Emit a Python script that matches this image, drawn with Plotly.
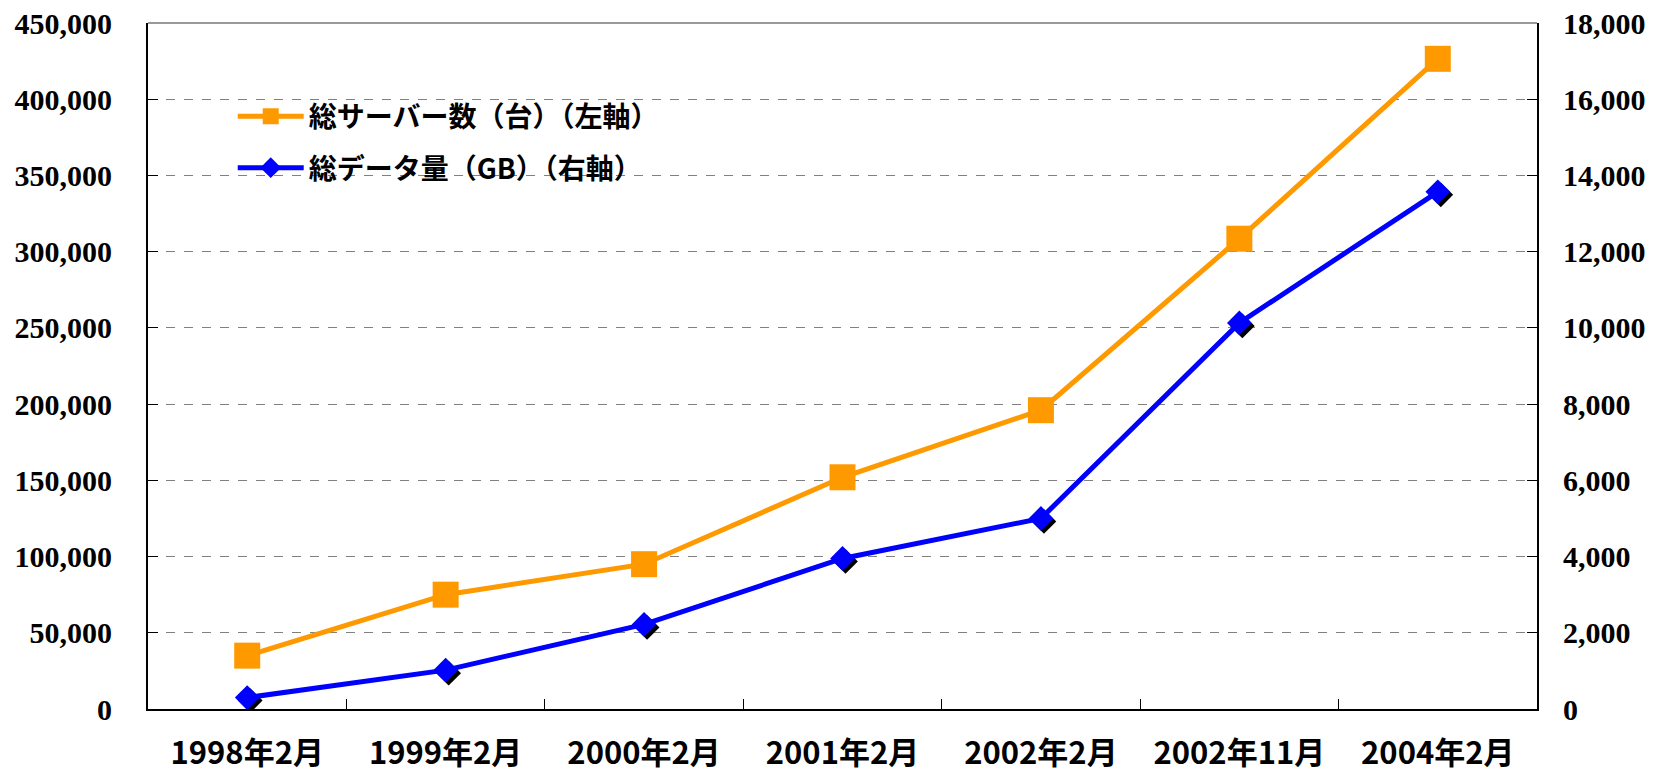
import plotly.graph_objects as go

categories = ["1998年2月", "1999年2月", "2000年2月", "2001年2月", "2002年2月", "2002年11月", "2004年2月"]
servers = [35000, 75000, 95000, 152000, 196000, 308500, 426500]
data_gb = [300, 1020, 2220, 3950, 5000, 10130, 13570]

name_servers = "総サーバー数（台）（左軸）"
name_data = "総データ量（GB）（右軸）"

W, H = 1655, 772
L, R, T, B = 148, 118, 23, 63
pw = W - L - R
ph = H - T - B
sx = 3 / (pw / 7)
sy = 3 * 18000 / ph

orange = "#FF9900"
blue = "#0000FF"

fig = go.Figure()
fig.add_trace(go.Scatter(
    x=categories, y=servers, name=name_servers, mode="lines+markers",
    line=dict(color=orange, width=5),
    marker=dict(symbol="square", size=26, color=orange),
    legendgroup="a",
))
# shadow for diamonds (offset overlay axes, hidden)
fig.add_trace(go.Scatter(
    x=categories, y=data_gb, mode="markers", showlegend=False,
    marker=dict(symbol="diamond", size=19, color="black"),
    xaxis="x2", yaxis="y2", hoverinfo="skip",
))
fig.add_trace(go.Scatter(
    x=categories, y=data_gb, name=name_data, mode="lines+markers",
    line=dict(color=blue, width=5),
    marker=dict(symbol="diamond", size=19, color=blue),
    xaxis="x3", yaxis="y3", legendgroup="b",
))

tickfont_y = dict(family="Liberation Serif", size=30, color="black", weight="bold")

fig.update_layout(
    width=W, height=H,
    margin=dict(l=L, r=R, t=T, b=B),
    paper_bgcolor="white", plot_bgcolor="white",
    showlegend=True,
    legend=dict(
        x=0.061, y=0.90, xanchor="left", yanchor="top",
        font=dict(family="Noto Sans CJK JP", size=28, color="black", weight="bold"),
        itemwidth=66, tracegroupgap=12, bgcolor="rgba(0,0,0,0)",
    ),
    xaxis=dict(
        type="category", range=[-0.5, 6.5], showline=True, linecolor="black", linewidth=2,
        ticks="inside", tickson="boundaries", ticklen=10, tickcolor="black", tickwidth=1,
        showgrid=False, ticklabelstandoff=16, automargin=False,
        categoryorder="array", categoryarray=categories,
        tickfont=dict(family="Noto Sans CJK JP", size=31, color="black", weight="bold"),
    ),
    yaxis=dict(
        range=[0, 450000], dtick=50000, tickformat=",d", showline=True, linecolor="black", linewidth=2,
        ticks="inside", ticklen=10, tickcolor="black", automargin=False,
        showgrid=True, gridcolor="#808080", griddash="dash", gridwidth=1,
        tickfont=tickfont_y, ticklabelstandoff=28, zeroline=False,
    ),
    xaxis2=dict(
        type="category", overlaying="x", range=[-0.5 - sx, 6.5 - sx], visible=False,
        categoryorder="array", categoryarray=categories, automargin=False,
    ),
    yaxis2=dict(
        overlaying="y", range=[sy, 18000 + sy], visible=False, automargin=False,
    ),
    xaxis3=dict(
        type="category", overlaying="x", range=[-0.5, 6.5], visible=False,
        categoryorder="array", categoryarray=categories, automargin=False,
    ),
    yaxis3=dict(
        range=[0, 18000], dtick=2000, tickformat=",d", overlaying="y", side="right",
        anchor="x3", showline=True, linecolor="black", linewidth=2, automargin=False,
        ticks="inside", ticklen=10, tickcolor="black", showgrid=False,
        tickfont=tickfont_y, ticklabelstandoff=18, zeroline=False,
    ),
    shapes=[dict(type="line", xref="paper", yref="paper", x0=0, x1=1, y0=1, y1=1,
                 line=dict(color="#999999", width=2))],
)

fig.write_html("out.html", config={"displayModeBar": False},
               post_script="document.body.style.margin='0px';")
